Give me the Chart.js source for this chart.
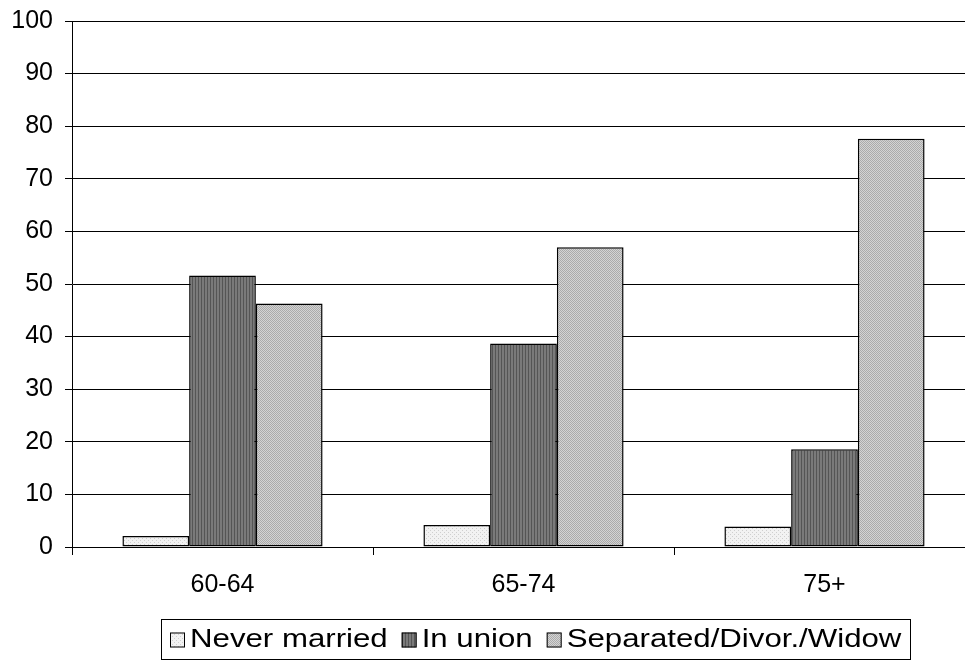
<!DOCTYPE html>
<html>
<head>
<meta charset="utf-8">
<script src="https://cdn.jsdelivr.net/npm/chart.js@4/dist/chart.umd.min.js"></script>
<style>
  html, body { margin: 0; padding: 0; background: #fff; overflow: hidden; }
  #wrap { position: relative; width: 980px; height: 661px; }
</style>
</head>
<body>
<div id="wrap"><canvas id="chart"></canvas></div>
<script>
// data
const ageGroups = ['60-64', '65-74', '75+'];
const neverMarried = [2.1, 4.2, 3.9];
const inUnion = [51.6, 38.7, 18.6];
const separated = [46.3, 57.0, 77.6];
const yTicks = [0, 10, 20, 30, 40, 50, 60, 70, 80, 90, 100];

const FONT = '"Liberation Sans", Arial, sans-serif';

// small tile patterns like the old office fills
function makePattern(size, draw) {
    const c = document.createElement('canvas');
    c.width = size;
    c.height = size;
    const g = c.getContext('2d');
    draw(g);
    return c.getContext('2d').createPattern(c, 'repeat');
}

const dottedFill = makePattern(4, function (g) {
    g.fillStyle = '#f2f2f2';
    g.fillRect(0, 0, 4, 4);
    g.fillStyle = '#cfcfcf';
    g.fillRect(0, 0, 1, 1);
    g.fillRect(2, 2, 1, 1);
});
const stripeFill = makePattern(3, function (g) {
    g.fillStyle = '#7a7a7a';
    g.fillRect(0, 0, 3, 3);
    g.fillStyle = '#555555';
    g.fillRect(0, 0, 1, 3);
});
const hatchFill = makePattern(2, function (g) {
    g.fillStyle = '#d4d4d4';
    g.fillRect(0, 0, 2, 2);
    g.fillStyle = '#ababab';
    g.fillRect(0, 0, 1, 1);
    g.fillRect(1, 1, 1, 1);
});

// legend drawn inside a framed box, centred under the plot
// the source text is a bit wider than Liberation Sans, so stretch it
const boxLegend = {
    id: 'boxLegend',
    afterDraw(chart) {
        const ctx = chart.ctx;
        const sets = chart.data.datasets;
        const sw = 15, gap = 5, itemGap = 14, padX = 9, stretch = 1.2;
        ctx.save();
        ctx.font = '26px ' + FONT;
        let total = 0;
        const widths = sets.map(function (ds) {
            return ctx.measureText(ds.label).width * stretch;
        });
        widths.forEach(function (w, i) {
            total += sw + gap + w + (i < widths.length - 1 ? itemGap : 0);
        });
        const cx = 536, top = 619, h = 40;
        const left = Math.round(cx - total / 2 - padX);
        ctx.strokeStyle = '#000';
        ctx.lineWidth = 1;
        ctx.strokeRect(left + 0.5, top + 0.5, Math.round(total + padX * 2), h);
        let x = left + padX;
        const mid = top + h / 2 + 1;
        sets.forEach(function (ds, i) {
            ctx.fillStyle = ds.backgroundColor;
            ctx.fillRect(x, mid - sw / 2, sw, sw);
            ctx.strokeStyle = '#000';
            ctx.strokeRect(x + 0.5, mid - sw / 2 + 0.5, sw - 1, sw - 1);
            x += sw + gap;
            ctx.save();
            ctx.translate(x, mid);
            ctx.scale(stretch, 1);
            ctx.fillStyle = '#000';
            ctx.textBaseline = 'middle';
            ctx.fillText(ds.label, 0, 0);
            ctx.restore();
            x += widths[i] + itemGap;
        });
        ctx.restore();
    }
};

const chart = new Chart(document.getElementById('chart'), {
    type: 'bar',
    data: {
        labels: ageGroups,
        datasets: [
            { label: 'Never married', data: neverMarried, backgroundColor: dottedFill },
            { label: 'In union', data: inUnion, backgroundColor: stripeFill },
            { label: 'Separated/Divor./Widow', data: separated, backgroundColor: hatchFill }
        ]
    },
    options: {
        responsive: true,
        maintainAspectRatio: false,
        animation: false,
        layout: { padding: { top: 21, right: 5, bottom: 0, left: 0 } },
        datasets: {
            bar: {
                categoryPercentage: 0.665,
                barPercentage: 1,
                borderColor: '#000',
                borderWidth: 1.5,
                borderSkipped: false
            }
        },
        plugins: {
            legend: { display: false },
            tooltip: { enabled: false }
        },
        scales: {
            x: {
                grid: {
                    offset: true,
                    drawOnChartArea: false,
                    drawTicks: true,
                    tickLength: 8,
                    color: '#000'
                },
                border: { color: '#000', width: 1 },
                ticks: {
                    color: '#000',
                    padding: 15,
                    font: { family: FONT, size: 25 }
                },
                afterFit(scale) { scale.height = 114; }
            },
            y: {
                min: 0,
                max: 100,
                afterBuildTicks(scale) {
                    scale.ticks = yTicks.map(function (v) { return { value: v }; });
                },
                grid: {
                    color: '#000',
                    lineWidth: 1,
                    tickLength: 7
                },
                border: { color: '#000', width: 1 },
                ticks: {
                    color: '#000',
                    padding: 12,
                    font: { family: FONT, size: 25 }
                },
                afterFit(scale) {
                    scale.width = 72;
                    scale.paddingTop = 0;
                    scale.paddingBottom = 0;
                }
            }
        }
    },
    plugins: [boxLegend]
});
</script>
</body>
</html>
